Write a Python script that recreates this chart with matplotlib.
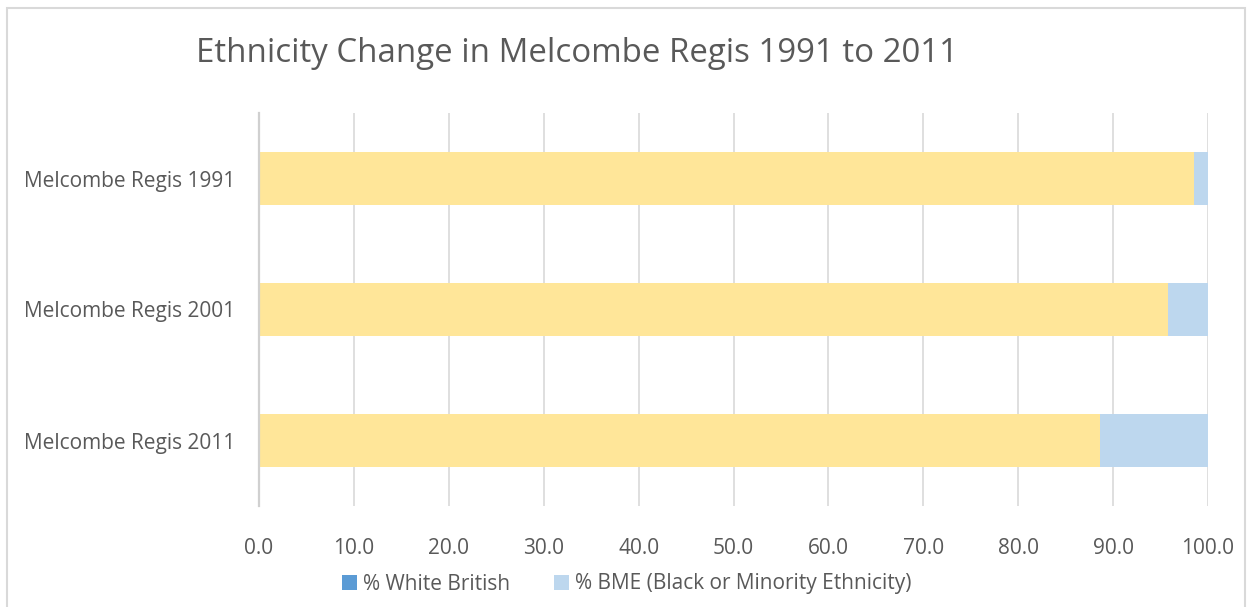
import matplotlib
matplotlib.use("Agg")
import matplotlib.pyplot as plt
from matplotlib.patches import Rectangle, Patch

categories = ["Melcombe Regis 1991", "Melcombe Regis 2001", "Melcombe Regis 2011"]
white_british = [98.5, 95.8, 88.6]
bme = [1.5, 4.2, 11.4]
xticks = [0, 10, 20, 30, 40, 50, 60, 70, 80, 90, 100]
series_names = ["% White British", "% BME (Black or Minority Ethnicity)"]
title = "Ethnicity Change in Melcombe Regis 1991 to 2011"

FONT = "Open Sans"
TXT = "#595959"
W, H = 1248, 607
fig = plt.figure(figsize=(W / 100, H / 100), dpi=100)
plt.rcParams["font.family"] = [FONT, "DejaVu Sans"]

ax = fig.add_axes([259 / W, 1 - 506 / H, (1208 - 259) / W, (506 - 113) / H])
ypos = list(range(len(categories)))
ax.barh(ypos, white_british, height=0.405, color="#FFE699", zorder=3)
ax.barh(ypos, bme, left=white_british, height=0.405, color="#BDD7EE", zorder=3)
ax.set_ylim(len(categories) - 0.5, -0.5)
ax.set_xlim(0, 100)
ax.set_xticks(xticks)
ax.set_xticklabels([f"{v:.1f}" for v in xticks])
ax.set_yticks(ypos)
ax.set_yticklabels(categories)
ax.tick_params(axis="both", length=0, colors=TXT, labelsize=15)
ax.tick_params(axis="x", pad=23)
ax.tick_params(axis="y", pad=17)
for s in ["top", "right", "bottom"]:
    ax.spines[s].set_visible(False)
ax.spines["left"].set_color("#D0D0D0")
ax.spines["left"].set_linewidth(1.6)
ax.spines["left"].set_zorder(4)
ax.grid(axis="x", color="#D9D9D9", linewidth=1.2, zorder=0)
ax.set_axisbelow(True)

fig.text(577 / W, 1 - 54 / H, title, ha="center", va="center", fontsize=23.8, color=TXT)

handles = [Patch(facecolor="#5B9BD5"), Patch(facecolor="#BDD7EE")]
fig.legend(handles, series_names, loc="center", bbox_to_anchor=(627 / W, 1 - 584 / H),
           ncol=2, frameon=False, fontsize=15, labelcolor=TXT, handlelength=0.7,
           handleheight=0.7, handletextpad=0.3, columnspacing=2.1)

fig.patches.append(Rectangle((7 / W, -0.1), (1245 - 7) / W, 1 - 8 / H + 0.1,
                             transform=fig.transFigure, fill=False, edgecolor="#D9D9D9",
                             linewidth=1.5))
fig.savefig("out.png", dpi=100, facecolor="white")
